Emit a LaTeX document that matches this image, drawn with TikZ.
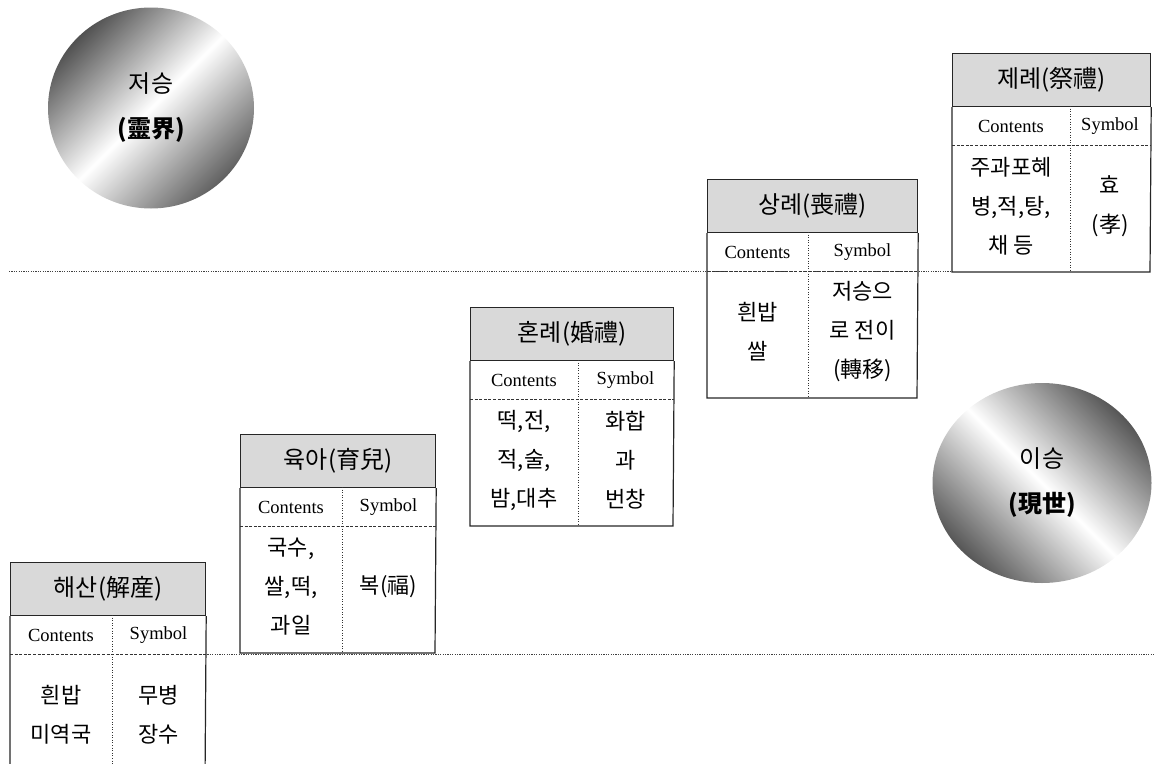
\documentclass[tikz,border=0pt]{standalone}
\usepackage{fontspec}
\setmainfont{Liberation Serif}
\newfontfamily\kr{Noto Sans CJK KR}
\usetikzlibrary{calc,shapes.geometric}

\tikzset{
  boxline/.style={draw=black!85, line width=1.2pt},
  titlecell/.style={rectangle, fill=black!15, draw=black!85, line width=1.2pt,
    minimum height=53pt, inner sep=0pt, font=\kr\fontsize{24}{28}\selectfont},
  headcell/.style={inner sep=0pt, font=\fontsize{18.5}{20}\selectfont},
  bodycell/.style={inner sep=0pt, align=center, font=\kr\fontsize{22}{39}\selectfont},
  hdash/.style={draw=black!80, line width=1pt, dash pattern=on 3pt off 1.6pt},
  vdot/.style={draw=black!80, line width=1pt, dash pattern=on 1pt off 1.6pt},
  longdot/.style={draw=black!75, line width=1pt, dash pattern=on 1.2pt off 1.2pt},
  world/.style={ellipse, inner sep=0pt, align=center,
    font=\kr\fontsize{24}{45}\selectfont},
}

% #1 name, #2 left x, #3 top y, #4 width, #5 divider offset, #6 title, #7 contents, #8 symbol
\newcommand{\ritebox}[8]{%
  \coordinate (#1-nw) at (#2,#3);
  \coordinate (#1-se) at ({#2+#4},{#3+219});
  \node[titlecell, minimum width=#4pt, anchor=north west] (#1-t) at (#1-nw) {#6};
  \node[headcell] (#1-hc) at ({#2+#5/2},{#3+73}) {Contents};
  \node[headcell] (#1-hs) at ({#2+#5+(#4-#5)/2},{#3+73}) {Symbol};
  \node[bodycell] (#1-bc) at ({#2+#5/2},{#3+153}) {#7};
  \node[bodycell] (#1-bs) at ({#2+#5+(#4-#5)/2},{#3+153}) {#8};
  \draw[boxline] (#1-t.south west) -- (#1-nw |- #1-se) -- (#1-se) -- (#1-t.south east);
  \draw[hdash] ($(#1-t.south west)+(0,38)$) -- ($(#1-t.south east)+(0,38)$);
  \draw[vdot] ({#2+#5},{#3+53}) -- ({#2+#5},{#3+219});
}

\begin{document}
\begin{tikzpicture}[x=1pt,y=-1pt]
\useasboundingbox (0,0) rectangle (1155,763);
\clip (0,0) rectangle (1155,763);

% worlds
\node[world, minimum width=206pt, minimum height=201pt,
  top color=black!68, bottom color=black!62, middle color=white, shading angle=45]
  (jeoseung) at (151,108) {저승\\{\bfseries (靈界)}};
\node[world, minimum width=219pt, minimum height=200pt,
  top color=black!66, bottom color=black!66, middle color=white, shading angle=-45]
  (iseung) at (1042,483) {이승\\{\bfseries (現世)}};

% long dotted boundaries
\coordinate (upL) at (9,271);
\coordinate (loR) at (1155,654);
\coordinate (upR) at (952,271);
\coordinate (loL) at (205,654);
\draw[longdot] (upL) -- (upR);
\draw[longdot] (loL) -- (loR);

\ritebox{b1}{10}{562}{195}{102}{해산(解産)}{흰밥\\미역국}{무병\\장수}
\ritebox{b2}{240}{434}{195}{102}{육아(育兒)}{국수,\\쌀,떡,\\과일}{복(福)}
\ritebox{b3}{470}{307}{203}{108}{혼례(婚禮)}{떡,전,\\적,술,\\밤,대추}{화합\\과\\번창}
\ritebox{b4}{707}{179}{210}{101}{상례(喪禮)}{흰밥\\쌀}{저승으\\로 전이\\(轉移)}
\ritebox{b5}{952}{53}{198}{118}{제례(祭禮)}{주과포혜\\병,적,탕,\\채 등}{효\\(孝)}
\end{tikzpicture}
\end{document}
